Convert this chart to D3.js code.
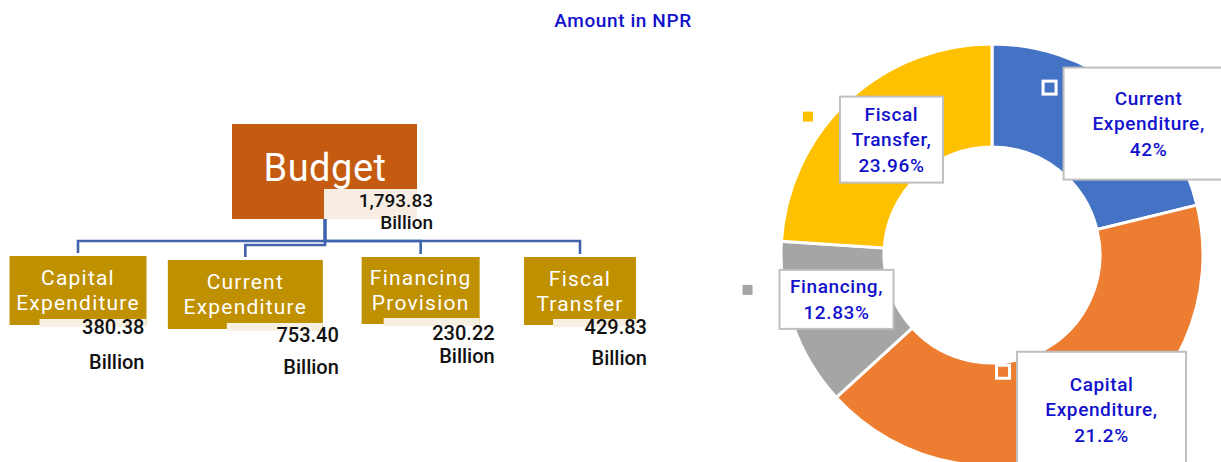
<!DOCTYPE html>
<html>
<head>
<meta charset="utf-8">
<script src="https://cdn.jsdelivr.net/npm/d3@7"></script>
<style>
  body { margin: 0; background: #fff; }
  svg { display: block; font-family: Roboto, "Noto Sans", sans-serif; }
</style>
</head>
<body>
<svg id="chart" width="1221" height="462"></svg>
<script>
// data
var heads = ["Capital Expenditure", "Current Expenditure", "Financing Provision", "Fiscal Transfer"];
var amounts = [380.38, 753.40, 230.22, 429.83];
var totalBudget = 1793.83;
var donutLabels = ["Current Expenditure", "Capital Expenditure", "Financing", "Fiscal Transfer"];
var donutPercents = ["42%", "21.2%", "12.83%", "23.96%"];
var sliceColors = ["#4472c4", "#ed7d31", "#a5a5a5", "#ffc000"];

var fmt = d3.format(",.2f");
var svg = d3.select("#chart");
var labelBlue = "#1212cc";

svg.append("text")
    .attr("x", 623).attr("y", 20)
    .attr("text-anchor", "middle").attr("dominant-baseline", "central")
    .attr("fill", labelBlue).attr("font-size", 19).attr("font-weight", 500)
    .attr("letter-spacing", 0.6)
    .text("Amount in NPR");

// ---- tree ----
var parentX = 325;
var x = d3.scalePoint().domain(heads).range([78, 580]);
// per-box layout
var childLayout = [
    {dx: 0, top: 256, w: 137, h: 69, strip: 107, tdx: -2, y1: 327, y2: 362, bus: 241},
    {dx: 0, top: 260, w: 155, h: 69, strip: 96,  tdx: 16, y1: 335, y2: 367, bus: 245},
    {dx: 8, top: 257, w: 118, h: 67, strip: 96,  tdx: 15, y1: 333, y2: 356, bus: 241},
    {dx: 0, top: 257, w: 112, h: 68, strip: 83,  tdx: 11, y1: 327, y2: 358, bus: 241}
];
var budgetBox = {x: 232, y: 124, w: 185, h: 95};
function cxOf(d, i) { return x(d) + childLayout[i].dx; }

var tree = svg.append("g");

tree.selectAll("path.link")
    .data(heads)
    .join("path")
    .attr("class", "link")
    .attr("fill", "none")
    .attr("stroke", "#3f63ad")
    .attr("stroke-width", 2.6)
    .attr("d", function(d, i) {
        var L = childLayout[i];
        return "M" + parentX + "," + (budgetBox.y + budgetBox.h) +
               "V" + L.bus + "H" + cxOf(d, i) + "V" + (L.top - 3);
    });

tree.append("rect")
    .attr("x", budgetBox.x).attr("y", budgetBox.y)
    .attr("width", budgetBox.w).attr("height", budgetBox.h)
    .attr("fill", "#c55a11");
tree.append("text")
    .attr("x", parentX).attr("y", 168)
    .attr("text-anchor", "middle").attr("dominant-baseline", "central")
    .attr("fill", "#fff").attr("font-size", 38).attr("letter-spacing", 0.5)
    .text("Budget");
tree.append("rect")
    .attr("x", 324).attr("y", 189)
    .attr("width", budgetBox.x + budgetBox.w - 324).attr("height", 30)
    .attr("fill", "#f8ede3");
tree.append("text")
    .attr("x", 433).attr("y", 200)
    .attr("text-anchor", "end").attr("dominant-baseline", "central")
    .attr("font-size", 19).attr("font-weight", 500).attr("fill", "#111")
    .text(fmt(totalBudget));
tree.append("text")
    .attr("x", 433).attr("y", 222)
    .attr("text-anchor", "end").attr("dominant-baseline", "central")
    .attr("font-size", 19).attr("font-weight", 500).attr("fill", "#111")
    .text("Billion");

var child = tree.selectAll("g.child")
    .data(heads)
    .join("g")
    .attr("class", "child");

child.append("rect")
    .attr("x", function(d, i) { return cxOf(d, i) - childLayout[i].w / 2; })
    .attr("y", function(d, i) { return childLayout[i].top; })
    .attr("width", function(d, i) { return childLayout[i].w; })
    .attr("height", function(d, i) { return childLayout[i].h; })
    .attr("fill", "#bf9000");

child.append("rect")
    .attr("x", function(d, i) { var L = childLayout[i]; return cxOf(d, i) + L.w / 2 - L.strip; })
    .attr("y", function(d, i) { var L = childLayout[i]; return L.top + L.h - 6; })
    .attr("width", function(d, i) { return childLayout[i].strip; })
    .attr("height", 8)
    .attr("fill", "#f7f0e2");

child.each(function(d, i) {
    var g = d3.select(this), L = childLayout[i];
    var words = d.split(" ");
    var cy = L.top + L.h / 2;
    words.forEach(function(w, j) {
        g.append("text")
            .attr("x", cxOf(d, i)).attr("y", cy + (j - (words.length - 1) / 2) * 25)
            .attr("text-anchor", "middle").attr("dominant-baseline", "central")
            .attr("fill", "#fff").attr("font-size", 21).attr("letter-spacing", 1.2)
            .text(w);
    });
    var rx = cxOf(d, i) + L.w / 2 + L.tdx;
    g.append("text")
        .attr("x", rx).attr("y", L.y1)
        .attr("text-anchor", "end").attr("dominant-baseline", "central")
        .attr("font-size", 20).attr("font-weight", 500).attr("fill", "#111")
        .text(fmt(amounts[i]));
    g.append("text")
        .attr("x", rx).attr("y", L.y2)
        .attr("text-anchor", "end").attr("dominant-baseline", "central")
        .attr("font-size", 20).attr("font-weight", 500).attr("fill", "#111")
        .text("Billion");
});

// ---- donut ----
var cx = 992, cy = 255, outerR = 211, innerR = 108;
var pie = d3.pie().sort(null).value(function(d) { return d; });
var arc = d3.arc().innerRadius(innerR).outerRadius(outerR);
var arcs = pie(amounts);

var donut = svg.append("g").attr("transform", "translate(" + cx + "," + cy + ")");
donut.selectAll("path")
    .data(arcs)
    .join("path")
    .attr("d", arc)
    .attr("fill", function(d, i) { return sliceColors[i]; })
    .attr("stroke", "#fff")
    .attr("stroke-width", 3);

// label boxes: offsets from slice centroid
var labelLayout = [
    {dx: -27, dy: -62, w: 170, h: 112, mk: 14},
    {dx: -50, dy: -44, w: 169, h: 116, mk: 14},
    {dx: -62, dy: -38, w: 114, h: 59, mk: 32},
    {dx: -43, dy: -42, w: 103, h: 86, mk: 32}
];

var lab = donut.selectAll("g.lab")
    .data(arcs)
    .join("g")
    .attr("class", "lab")
    .attr("transform", function(d, i) {
        var c = arc.centroid(d), L = labelLayout[i];
        return "translate(" + (c[0] + L.dx) + "," + (c[1] + L.dy) + ")";
    });

lab.append("rect")
    .attr("width", function(d, i) { return labelLayout[i].w; })
    .attr("height", function(d, i) { return labelLayout[i].h; })
    .attr("fill", "#fff")
    .attr("stroke", "#bfbfbf")
    .attr("stroke-width", 2);

lab.append("rect")
    .attr("x", function(d, i) { return -labelLayout[i].mk - 6.5; })
    .attr("y", 13.5)
    .attr("width", 13).attr("height", 13)
    .attr("fill", function(d, i) { return sliceColors[i]; })
    .attr("stroke", "#fff")
    .attr("stroke-width", 3);

lab.each(function(d, i) {
    var g = d3.select(this), L = labelLayout[i];
    var lines = donutLabels[i].split(" ");
    lines[lines.length - 1] += ",";
    lines.push(donutPercents[i]);
    lines.forEach(function(t, j) {
        g.append("text")
            .attr("x", L.w / 2)
            .attr("y", L.h / 2 + (j - (lines.length - 1) / 2) * 25.5)
            .attr("text-anchor", "middle").attr("dominant-baseline", "central")
            .attr("fill", labelBlue).attr("font-size", 19).attr("font-weight", 500)
            .attr("letter-spacing", 0.6)
            .text(t);
    });
});
</script>
</body>
</html>
